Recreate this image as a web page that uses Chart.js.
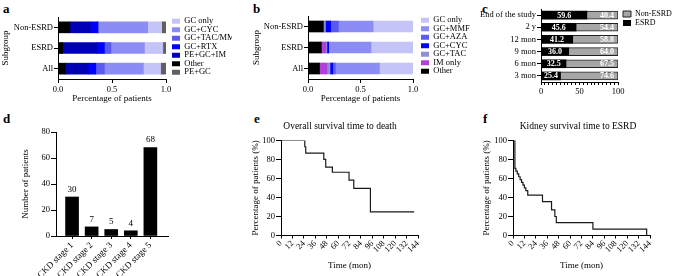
<!DOCTYPE html>
<html>
<head>
<meta charset="utf-8">
<script src="https://cdn.jsdelivr.net/npm/chart.js@4.4.2/dist/chart.umd.min.js"></script>
<style>
  html, body { margin: 0; padding: 0; background: #fff; width: 676px; height: 276px; overflow: hidden; position: relative; }
  canvas { position: absolute; }
  .tag { position: absolute; font: bold 13px "Liberation Serif", serif; color: #000; line-height: 13px; }
</style>
</head>
<body>
<div class="tag" style="left:3px;top:2px">a</div>
<div class="tag" style="left:253px;top:2px">b</div>
<div class="tag" style="left:482px;top:2px">c</div>
<div class="tag" style="left:3px;top:112px">d</div>
<div class="tag" style="left:254px;top:112px">e</div>
<div class="tag" style="left:483px;top:112px">f</div>

<canvas id="chartA" style="left:0;top:0" width="232" height="104"></canvas>
<canvas id="chartB" style="left:250px;top:0" width="220" height="104"></canvas>
<canvas id="chartC" style="left:470px;top:0" width="206" height="104"></canvas>
<canvas id="chartD" style="left:0;top:110px" width="232" height="166"></canvas>
<canvas id="chartE" style="left:232px;top:110px" width="216" height="166"></canvas>
<canvas id="chartF" style="left:464px;top:110px" width="228" height="166"></canvas>

<script>
// ---- data ----
const subgroups = ['Non-ESRD', 'ESRD', 'All'];

// panel a: treatment shares (fractions), left to right
const aOther = [0.11, 0.043, 0.065];
const aPeGcIm = [0.19, 0.317, 0.215];
const aGcRtx = [0.07, 0.07, 0.07];
const aGcTacMmf = [0, 0.06, 0.08];
const aGcCyc = [0.46, 0.31, 0.36];
const aGcOnly = [0.13, 0.17, 0.16];
const aPeGc = [0.04, 0.03, 0.05];

// panel b
const bOther = [0.146, 0.127, 0.11];
const bImOnly = [0, 0.043, 0.07];
const bGcTac = [0.02, 0.01, 0.03];
const bGcCyc = [0.05, 0.017, 0.025];
const bGcAza = [0.074, 0, 0.025];
const bGcMmf = [0.33, 0.403, 0.42];
const bGcOnly = [0.38, 0.40, 0.32];

// panel c
const timepoints = ['End of the study', '2 y', '12 mon', '9 mon', '6 mon', '3 mon'];
const esrdPct = [59.6, 45.6, 41.2, 36.0, 32.5, 25.4];
const nonEsrdPct = [40.4, 54.4, 58.8, 64.0, 67.5, 74.6];

// panel d
const ckdStages = ['CKD stage 1', 'CKD stage 2', 'CKD stage 3', 'CKD stage 4', 'CKD stage 5'];
const ckdCounts = [30, 7, 5, 4, 68];

// panel e: overall survival (month, %)
const deathMonths = [0, 25, 26, 45, 47, 54, 71.5, 76.5, 94, 140];
const deathSurv = [100, 93.3, 86.7, 80, 72, 66.5, 58.2, 49.6, 24.8, 24.8];

// panel f: kidney survival (month, %)
const esrdMonths = [0, 2, 3, 4.5, 6, 7.5, 9, 10.5, 12, 13.5, 15.5, 31, 40.5, 44, 45.5, 84, 140.5];
const esrdSurv = [100, 70.6, 67.6, 64.7, 61.8, 58.8, 55.9, 52.9, 50.0, 47.1, 42.4, 35.6, 27.0, 20.0, 13.5, 6.7, 0];

const monthTicks = [0, 12, 24, 36, 48, 60, 72, 84, 96, 108, 120, 132, 144];

// ---- common ----
Chart.defaults.font.family = '"Liberation Serif", "Times New Roman", serif';
Chart.defaults.font.size = 8.5;
Chart.defaults.color = '#000';
Chart.defaults.animation = false;
Chart.defaults.responsive = false;
Chart.defaults.plugins.tooltip.enabled = false;
Chart.defaults.plugins.legend.display = false;

const axisGrid = { drawOnChartArea: false, drawTicks: true, tickLength: 4, color: '#000', offset: false };
const axisBorder = { display: true, color: '#000', width: 1 };
const fixW = w => s => { s.width = w; };
const fixH = h => s => { s.height = h; s.paddingLeft = 0; s.paddingRight = 0; };
const spacer = w => ({
  type: 'linear', position: 'right',
  ticks: { display: false }, grid: { display: false }, border: { display: false },
  afterFit: fixW(w)
});

function stackedSubgroupChart(id, datasets, order, opts) {
  return new Chart(document.getElementById(id), {
    type: 'bar',
    data: { labels: subgroups, datasets: datasets },
    options: {
      indexAxis: 'y',
      layout: { padding: { top: opts.top } },
      datasets: { bar: { barThickness: 11, borderWidth: 0 } },
      scales: {
        x: {
          stacked: true, min: 0, max: 1,
          ticks: { stepSize: 0.5, padding: 2, maxRotation: 0, callback: v => v.toFixed(1) },
          grid: axisGrid, border: axisBorder,
          title: { display: true, text: 'Percentage of patients', font: { size: 9 }, padding: { top: 0, bottom: 0 } },
          afterFit: fixH(104 - opts.bottom)
        },
        y: {
          stacked: true,
          ticks: { padding: 1, autoSkip: false },
          grid: axisGrid, border: axisBorder,
          title: { display: true, text: 'Subgroup', font: { size: 9 }, padding: { top: opts.titlePad, bottom: 0 } },
          afterFit: fixW(opts.left)
        },
        gap: spacer(opts.gap)
      },
      plugins: {
        legend: {
          display: true, position: 'right', align: 'start', fullSize: false, maxWidth: opts.legendW,
          labels: {
            boxWidth: 8, boxHeight: 5, padding: 0, font: { size: 8.5 },
            sort: (p, q) => order.indexOf(p.text) - order.indexOf(q.text)
          }
        }
      }
    }
  });
}

// ---- a ----
stackedSubgroupChart('chartA', [
  { label: 'Other', data: aOther, backgroundColor: '#000000' },
  { label: 'PE+GC+IM', data: aPeGcIm, backgroundColor: '#0000b4' },
  { label: 'GC+RTX', data: aGcRtx, backgroundColor: '#0000ff' },
  { label: 'GC+TAC/MMF', data: aGcTacMmf, backgroundColor: '#5a5af0' },
  { label: 'GC+CYC', data: aGcCyc, backgroundColor: '#8c8cf5' },
  { label: 'GC only', data: aGcOnly, backgroundColor: '#c4c4f8' },
  { label: 'PE+GC', data: aPeGc, backgroundColor: '#606060' }
], ['GC only', 'GC+CYC', 'GC+TAC/MMF', 'GC+RTX', 'PE+GC+IM', 'Other', 'PE+GC'],
  { top: 17, bottom: 79, left: 58, titlePad: 0, gap: 6, legendW: 60 });

// ---- b ----
stackedSubgroupChart('chartB', [
  { label: 'Other', data: bOther, backgroundColor: '#000000' },
  { label: 'IM only', data: bImOnly, backgroundColor: '#b040d8' },
  { label: 'GC+TAC', data: bGcTac, backgroundColor: '#8e8ed6' },
  { label: 'GC+CYC', data: bGcCyc, backgroundColor: '#0000ff' },
  { label: 'GC+AZA', data: bGcAza, backgroundColor: '#5a5af0' },
  { label: 'GC+MMF', data: bGcMmf, backgroundColor: '#8c8cf5' },
  { label: 'GC only', data: bGcOnly, backgroundColor: '#c4c4f8' }
], ['GC only', 'GC+MMF', 'GC+AZA', 'GC+CYC', 'GC+TAC', 'IM only', 'Other'],
  { top: 16, bottom: 79, left: 58, titlePad: 1.5, gap: 8, legendW: 49 });

// ---- c ----
const stackLabels = {
  id: 'stackLabels',
  afterDatasetsDraw(chart) {
    const ctx = chart.ctx;
    ctx.save();
    ctx.font = 'bold 8px "Liberation Serif"';
    ctx.fillStyle = '#fff';
    ctx.textBaseline = 'middle';
    chart.getDatasetMeta(0).data.forEach((el, i) => {
      ctx.textAlign = 'center';
      ctx.fillText(esrdPct[i].toFixed(1), (el.x + el.base) / 2, el.y + 0.5);
    });
    chart.getDatasetMeta(1).data.forEach((el, i) => {
      ctx.textAlign = 'right';
      ctx.fillText(nonEsrdPct[i].toFixed(1), el.x - 4, el.y + 0.5);
    });
    ctx.restore();
  }
};

new Chart(document.getElementById('chartC'), {
  type: 'bar',
  data: {
    labels: timepoints,
    datasets: [
      { label: 'ESRD', data: esrdPct, backgroundColor: '#000000', borderColor: '#000', borderWidth: 0 },
      { label: 'Non-ESRD', data: nonEsrdPct, backgroundColor: '#a6a6a6', borderColor: '#222', borderWidth: 1 }
    ]
  },
  options: {
    indexAxis: 'y',
    layout: { padding: { top: 9 } },
    datasets: { bar: { barThickness: 8 } },
    scales: {
      x: {
        stacked: true, min: 0, max: 100,
        afterBuildTicks: s => { s.ticks = Array.from({ length: 21 }, (_, i) => ({ value: i * 5 })); },
        ticks: { autoSkip: false, padding: 2, minRotation: 0, maxRotation: 0, callback: v => (v % 50 === 0 ? v : '') },
        grid: Object.assign({}, axisGrid, { tickLength: 3 }), border: axisBorder,
        afterFit: fixH(22)
      },
      y: {
        stacked: true,
        ticks: { padding: 1, autoSkip: false },
        grid: axisGrid, border: axisBorder,
        afterFit: fixW(71)
      },
      gap: spacer(4)
    },
    plugins: {
      legend: {
        display: true, position: 'right', align: 'start', fullSize: false, maxWidth: 54,
        labels: { boxWidth: 8, boxHeight: 6, padding: 1, font: { size: 8 }, sort: (p, q) => q.datasetIndex - p.datasetIndex }
      }
    }
  },
  plugins: [stackLabels]
});

// ---- d ----
const barValueLabels = {
  id: 'barValueLabels',
  afterDatasetsDraw(chart) {
    const ctx = chart.ctx;
    ctx.save();
    ctx.font = '9px "Liberation Serif"';
    ctx.fillStyle = '#000';
    ctx.textAlign = 'center';
    ctx.textBaseline = 'bottom';
    chart.getDatasetMeta(0).data.forEach((el, i) => ctx.fillText(ckdCounts[i], el.x, el.y - 3));
    ctx.restore();
  }
};

new Chart(document.getElementById('chartD'), {
  type: 'bar',
  data: {
    datasets: [{ data: ckdCounts.map((v, i) => ({ x: i, y: v })), backgroundColor: '#000', barThickness: 13 }]
  },
  options: {
    layout: { padding: { top: 22, right: 64 } },
    scales: {
      x: {
        type: 'linear', min: -0.82, max: 4.9, offset: false,
        afterBuildTicks: s => { s.ticks = ckdStages.map((_, i) => ({ value: i })); },
        ticks: { autoSkip: false, minRotation: 45, maxRotation: 45, padding: 1, font: { size: 9 }, callback: v => ckdStages[v] },
        grid: Object.assign({}, axisGrid, { tickLength: 3 }), border: axisBorder,
        afterFit: fixH(40)
      },
      y: {
        min: 0, max: 80,
        ticks: { stepSize: 20, padding: 1 },
        grid: Object.assign({}, axisGrid, { tickLength: 5 }), border: axisBorder,
        title: { display: true, text: 'Number of patients', font: { size: 9 }, padding: { top: 20, bottom: 0 } },
        afterFit: fixW(56)
      }
    }
  },
  plugins: [barValueLabels]
});

// ---- e / f ----
function survivalChart(id, months, surv, opts) {
  return new Chart(document.getElementById(id), {
    type: 'line',
    data: {
      datasets: [{
        data: months.map((m, i) => ({ x: m, y: surv[i] })),
        stepped: true, borderColor: '#1a1a1a', borderWidth: 1.2,
        pointRadius: 0, fill: false
      }]
    },
    options: {
      layout: { padding: { top: 6 } },
      scales: {
        x: {
          type: 'linear', min: 0, max: 144,
          afterBuildTicks: s => { s.ticks = monthTicks.map(v => ({ value: v })); },
          ticks: { autoSkip: false, minRotation: 45, maxRotation: 45, padding: 0 },
          grid: Object.assign({}, axisGrid, { tickLength: 3 }), border: axisBorder,
          title: { display: true, text: 'Time (mon)', font: { size: 9 }, padding: { top: 0, bottom: 5 } },
          afterFit: fixH(40.5)
        },
        y: {
          min: 0, max: 100,
          ticks: { stepSize: 20, padding: 1 },
          grid: Object.assign({}, axisGrid, { tickLength: 5 }), border: axisBorder,
          title: { display: true, text: 'Percentage of patients (%)', font: { size: 9 }, padding: { top: opts.titlePad, bottom: 0 } },
          afterFit: fixW(49)
        },
        gap: spacer(opts.gap)
      },
      plugins: {
        title: {
          display: true, text: opts.title, font: { size: 9.5, weight: 'normal' }, color: '#000',
          padding: { top: 5, bottom: 8 }
        }
      }
    }
  });
}

survivalChart('chartE', deathMonths, deathSurv, { title: 'Overall survival time to death', titlePad: 18.5, gap: 30 });
survivalChart('chartF', esrdMonths, esrdSurv, { title: 'Kidney survival time to ESRD', titlePad: 17, gap: 42 });
</script>
</body>
</html>
